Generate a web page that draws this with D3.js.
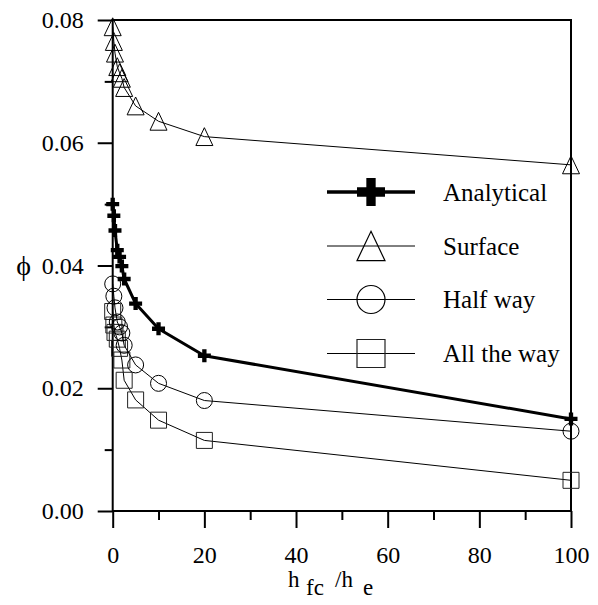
<!DOCTYPE html>
<html>
<head>
<meta charset="utf-8">
<script src="https://cdn.jsdelivr.net/npm/d3@7"></script>
<style>
  html, body { margin: 0; padding: 0; background: #fff; }
  svg { display: block; }
  svg text { font-family: "Liberation Serif", Tinos, "Times New Roman", Times, "DejaVu Serif", "Noto Serif", serif; fill: #000; }
</style>
</head>
<body>
<svg id="chart" width="598" height="605"></svg>
<script>
// Dimensionless ratio h_fc / h_e
const ratios = [0, 0.25, 0.5, 1, 1.5, 2, 2.5, 5, 10, 20, 100];

// phi for each case
const analytical = [0.0500, 0.0481, 0.0457, 0.0425, 0.0414, 0.0399, 0.0378, 0.0338, 0.0297, 0.0253, 0.0150];
const surface    = [0.0789, 0.0765, 0.0746, 0.0724, 0.0714, 0.0705, 0.0690, 0.0660, 0.0635, 0.0610, 0.0564];
const halfWay    = [0.0370, 0.0350, 0.0331, 0.0308, 0.0300, 0.0290, 0.0270, 0.0238, 0.0208, 0.0180, 0.0130];
const allTheWay  = [0.0325, 0.0303, 0.0291, 0.0280, 0.0265, 0.0246, 0.0213, 0.0181, 0.0148, 0.0115, 0.0050];

const seriesNames = ["Analytical", "Surface", "Half way", "All the way"];

const xMajorTicks = [0, 20, 40, 60, 80, 100];
const xMinorTicks = [10, 30, 50, 70, 90];
const yMajorTicks = [0, 0.02, 0.04, 0.06, 0.08];
const yMinorTicks = [0.01, 0.03, 0.05, 0.07];

const serif = '"Liberation Serif", Tinos, "Times New Roman", Times, "DejaVu Serif", "Noto Serif", serif';

const svg = d3.select("#chart");

const frame = { left: 112.7, right: 571, top: 20, bottom: 511 };
const x = d3.scaleLinear().domain([0, 100]).range([frame.left, frame.right]);
const y = d3.scaleLinear().domain([0, 0.08]).range([frame.bottom, frame.top]);

// marker shapes
const triangleType = {
  draw(ctx, size) {
    const w = Math.sqrt(size), h = w * 1.05;
    ctx.moveTo(0, -h / 2);
    ctx.lineTo(w / 2, h / 2);
    ctx.lineTo(-w / 2, h / 2);
    ctx.closePath();
  }
};
const circleType = {
  draw(ctx, size) {
    const r = Math.sqrt(size) / 2;
    ctx.moveTo(r, 0);
    ctx.arc(0, 0, r, 0, 2 * Math.PI);
  }
};
const squareType = {
  draw(ctx, size) {
    const w = Math.sqrt(size);
    ctx.rect(-w / 2, -w / 2, w, w);
  }
};
const crossType = {
  draw(ctx, size) {
    const w = Math.sqrt(size), a = w / 2, t = w / 6;
    ctx.moveTo(-a, -t); ctx.lineTo(-t, -t); ctx.lineTo(-t, -a); ctx.lineTo(t, -a);
    ctx.lineTo(t, -t); ctx.lineTo(a, -t); ctx.lineTo(a, t); ctx.lineTo(t, t);
    ctx.lineTo(t, a); ctx.lineTo(-t, a); ctx.lineTo(-t, t); ctx.lineTo(-a, t);
    ctx.closePath();
  }
};

const series = [
  { name: seriesNames[0], values: analytical, type: crossType, plotW: 13, legW: 28, lineW: 3, legLineW: 3.5, fill: "#000", stroke: "none" },
  { name: seriesNames[1], values: surface, type: triangleType, plotW: 17, legW: 28, lineW: 1, legLineW: 1, fill: "none", stroke: "#000" },
  { name: seriesNames[2], values: halfWay, type: circleType, plotW: 16, legW: 28, lineW: 1, legLineW: 1, fill: "none", stroke: "#000" },
  { name: seriesNames[3], values: allTheWay, type: squareType, plotW: 16, legW: 28, lineW: 1, legLineW: 1, fill: "none", stroke: "#222" }
];

// axes
const axisStyle = g => {
  g.attr("font-family", serif);
  g.select(".domain").remove();
  g.selectAll(".tick line").attr("stroke", "#000").attr("stroke-width", 2);
  g.selectAll(".tick text").attr("font-family", serif).attr("font-size", 24).attr("fill", "#000");
};

svg.append("g")
  .attr("transform", `translate(0,${frame.bottom})`)
  .call(d3.axisBottom(x).tickValues(xMajorTicks).tickSize(17).tickPadding(18).tickFormat(d3.format("d")))
  .call(axisStyle);
svg.append("g")
  .attr("transform", `translate(0,${frame.bottom})`)
  .call(d3.axisBottom(x).tickValues(xMinorTicks).tickSize(9).tickFormat(""))
  .call(axisStyle);

svg.append("g")
  .attr("transform", `translate(${frame.left},0)`)
  .call(d3.axisLeft(y).tickValues(yMajorTicks).tickSize(15).tickPadding(14).tickFormat(d3.format(".2f")))
  .call(axisStyle);
svg.append("g")
  .attr("transform", `translate(${frame.left},0)`)
  .call(d3.axisLeft(y).tickValues(yMinorTicks).tickSize(8).tickFormat(""))
  .call(axisStyle);

// frame
svg.append("rect")
  .attr("x", frame.left).attr("y", frame.top)
  .attr("width", frame.right - frame.left).attr("height", frame.bottom - frame.top)
  .attr("fill", "none").attr("stroke", "#000").attr("stroke-width", 2);

// axis titles
svg.append("text")
  .attr("font-family", serif)
  .attr("x", 31).attr("y", y(0.04)).attr("dy", "0.35em")
  .attr("text-anchor", "end").attr("font-size", 28)
  .text("ϕ");

const xt = svg.append("text").attr("font-family", serif).attr("font-size", 23);
xt.append("tspan").attr("x", 288).attr("y", 587).text("h");
xt.append("tspan").attr("x", 306).attr("y", 595).text("fc");
xt.append("tspan").attr("x", 335).attr("y", 587).text("/h");
xt.append("tspan").attr("x", 363).attr("y", 595).text("e");

// series lines and markers
const line = d3.line().x((d, i) => x(ratios[i])).y(d => y(d)).curve(d3.curveLinear);

const plot = svg.append("g");
series.slice().reverse().forEach(s => {
  plot.append("path")
    .attr("d", line(s.values))
    .attr("fill", "none").attr("stroke", "#000").attr("stroke-width", s.lineW)
    .attr("stroke-linejoin", "round");
  plot.append("g").selectAll("path")
    .data(s.values)
    .join("path")
    .attr("transform", (d, i) => `translate(${x(ratios[i])},${y(d)})`)
    .attr("d", d3.symbol().type(s.type).size(s.plotW * s.plotW)())
    .attr("fill", s.fill).attr("stroke", s.stroke).attr("stroke-width", 1);
});

// legend
const legend = svg.append("g");
const legY = [192, 246, 299.5, 353.5];
series.forEach((s, i) => {
  const g = legend.append("g").attr("transform", `translate(0,${legY[i]})`);
  g.append("line").attr("x1", 327).attr("x2", 415).attr("y1", 0).attr("y2", 0)
    .attr("stroke", "#000").attr("stroke-width", s.legLineW);
  g.append("path")
    .attr("transform", "translate(371,0)")
    .attr("d", d3.symbol().type(s.type).size(s.legW * s.legW)())
    .attr("fill", s.fill).attr("stroke", s.stroke).attr("stroke-width", 1.2);
  g.append("text").attr("font-family", serif).attr("x", 443).attr("dy", "0.35em").attr("font-size", 25).text(s.name);
});
</script>
</body>
</html>
